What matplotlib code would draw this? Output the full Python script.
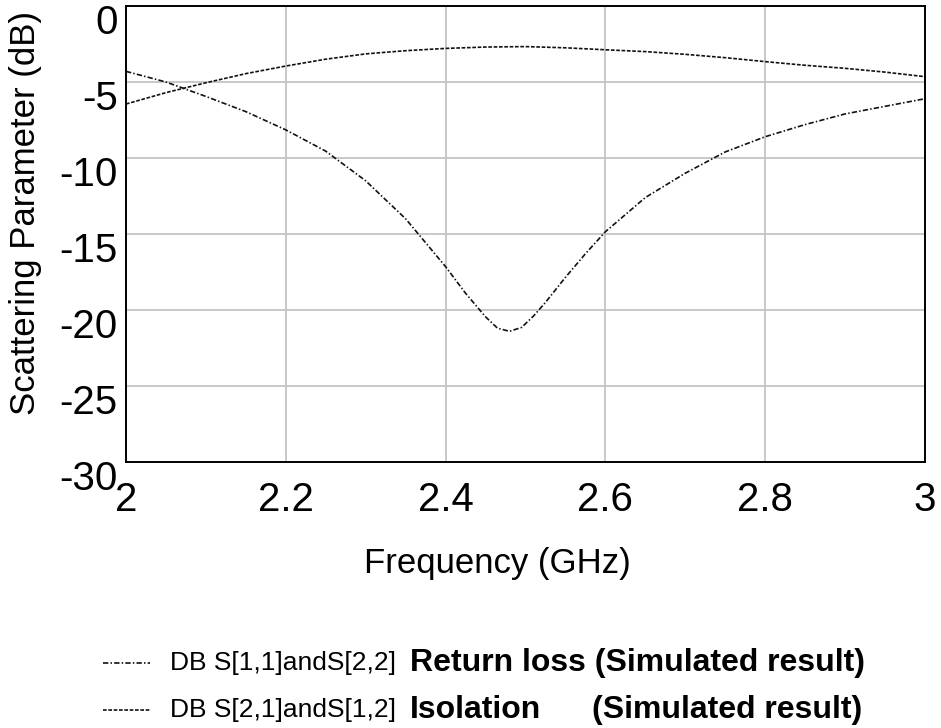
import numpy as np
import matplotlib
matplotlib.use("Agg")
import matplotlib.pyplot as plt
from matplotlib.lines import Line2D
import matplotlib.transforms as mtransforms

plt.rcParams['font.family'] = ['Liberation Sans', 'DejaVu Sans']
plt.rcParams['axes.unicode_minus'] = False

# Return loss S11/S22 (dB)
freq_rl = [2.00, 2.05, 2.10, 2.15, 2.20, 2.25, 2.30, 2.35, 2.40, 2.425, 2.45, 2.465,
           2.48, 2.495, 2.51, 2.525, 2.55, 2.575, 2.60, 2.65, 2.70, 2.75, 2.80,
           2.85, 2.90, 2.95, 3.00]
return_loss = [-4.30, -5.00, -5.95, -6.95, -8.15, -9.55, -11.5, -14.0, -17.15, -18.9,
               -20.45, -21.2, -21.4, -21.15, -20.4, -19.5, -17.85, -16.3, -14.85,
               -12.6, -11.0, -9.6, -8.6, -7.8, -7.1, -6.6, -6.1]

# Isolation S21/S12 (dB)
freq_iso = [2.00, 2.05, 2.10, 2.15, 2.20, 2.25, 2.30, 2.35, 2.40, 2.45, 2.50,
            2.55, 2.60, 2.65, 2.70, 2.75, 2.80, 2.85, 2.90, 2.95, 3.00]
isolation = [-6.45, -5.7, -5.05, -4.45, -3.95, -3.5, -3.15, -2.94, -2.79, -2.7, -2.67,
             -2.75, -2.88, -3.0, -3.18, -3.4, -3.66, -3.9, -4.1, -4.35, -4.65]

xticks = [2, 2.2, 2.4, 2.6, 2.8, 3]
xticklabels = ['2', '2.2', '2.4', '2.6', '2.8', '3']
yticks = [0, -5, -10, -15, -20, -25, -30]

fig = plt.figure(figsize=(9.41, 7.28), dpi=100, facecolor='w')
ax = fig.add_axes([126/941, 1-462/728, 799/941, 456/728])

ax.plot(freq_rl, return_loss, color='#111111', lw=1.2, dashes=(3.2, 1.3, 0.9, 1.3))
ax.plot(freq_iso, isolation, color='#111111', lw=1.2, dashes=(2.2, 1.0))

ax.set_xlim(2, 3)
ax.set_ylim(-30, 0)
ax.set_xticks(xticks)
ax.set_xticklabels(xticklabels)
ax.set_yticks(yticks)
ax.grid(True, color='#c4c4c4', lw=1.3)
ax.set_axisbelow(True)
for s in ax.spines.values():
    s.set_linewidth(1.4)
    s.set_color('black')
ax.tick_params(length=0, labelsize=29)
ax.tick_params(axis='x', pad=13.5)
ax.tick_params(axis='y', pad=6)

# y labels sit a bit below their grid lines in the original
off = mtransforms.ScaledTranslation(0, -13/100, fig.dpi_scale_trans)
for lab in ax.get_yticklabels():
    lab.set_transform(lab.get_transform() + off)

ax.set_xlabel('Frequency (GHz)', fontsize=25)
ax.set_ylabel('Scattering Parameter (dB)', fontsize=25)
ax.xaxis.set_label_coords((497-126)/799, (462-547)/456)
ax.yaxis.set_label_coords((42-126)/799, (462-213)/456)

# hand-made legend
r1 = 1 - 663/728
r2 = 1 - 710/728
fig.add_artist(Line2D([103/941, 150/941], [r1, r1], color='#111111', lw=1.2,
                      dashes=(3.2, 1.3, 0.9, 1.3), transform=fig.transFigure))
fig.add_artist(Line2D([103/941, 150/941], [r2, r2], color='#111111', lw=1.2,
                      dashes=(2.2, 1.0), transform=fig.transFigure))
fig.text(170/941, r1, 'DB S[1,1]andS[2,2]', fontsize=19, va='center')
fig.text(170/941, r2, 'DB S[2,1]andS[1,2]', fontsize=19, va='center')
fig.text(410/941, r1, 'Return loss (Simulated result)', fontsize=23, fontweight='bold', va='center')
fig.text(410/941, r2, 'Isolation', fontsize=23, fontweight='bold', va='center')
fig.text(862/941, r2, '(Simulated result)', fontsize=23, fontweight='bold', va='center', ha='right')

plt.savefig('out.png', dpi=100)
plt.close()
